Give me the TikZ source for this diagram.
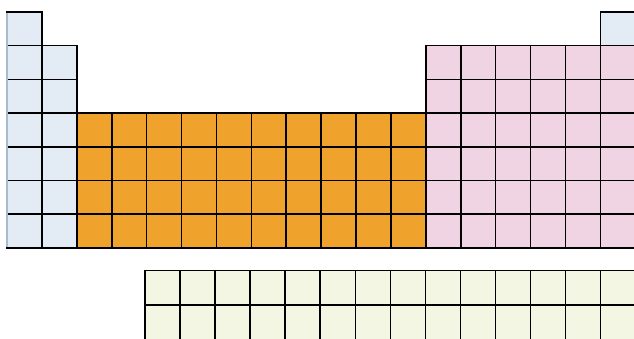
\documentclass[tikz,border=0pt]{standalone}
\definecolor{sblue}{HTML}{E3ECF5}
\definecolor{dorange}{HTML}{EFA22C}
\definecolor{ppink}{HTML}{F1D4E4}
\definecolor{fgreen}{HTML}{F3F6E2}
\definecolor{edgeblue}{HTML}{A9BBCF}
\begin{document}
\begin{tikzpicture}[x=1pt,y=-1pt,
  cell/.style={draw=black,line width=1.6pt}]
\useasboundingbox (0,0) rectangle (634,339);
\clip (0,0) rectangle (634,339);
\newcommand\pcell[3]{\filldraw[fill=#3,cell] ({7+(#1-1)*34.9},{12+(#2-1)*33.7}) rectangle ++(34.9,33.7);}
% s-block
\foreach \r in {1,...,7} {\pcell{1}{\r}{sblue}}
\foreach \r in {2,...,7} {\pcell{2}{\r}{sblue}}
% d-block
\foreach \c in {3,...,12} {\foreach \r in {4,...,7} {\pcell{\c}{\r}{dorange}}}
% p-block
\foreach \c in {13,...,18} {\foreach \r in {2,...,7} {\pcell{\c}{\r}{ppink}}}
\pcell{18}{1}{sblue}
% softer left edge
\draw[edgeblue,line width=2pt] (7.2,12.8) -- (7.2,247.1);
% f-block
\foreach \c in {0,...,13} {\foreach \r in {0,1} {
  \filldraw[fill=fgreen,cell] ({145+\c*35.05},{270.5+\r*34.5}) rectangle ++(35.05,34.5);}}
\end{tikzpicture}
\end{document}
